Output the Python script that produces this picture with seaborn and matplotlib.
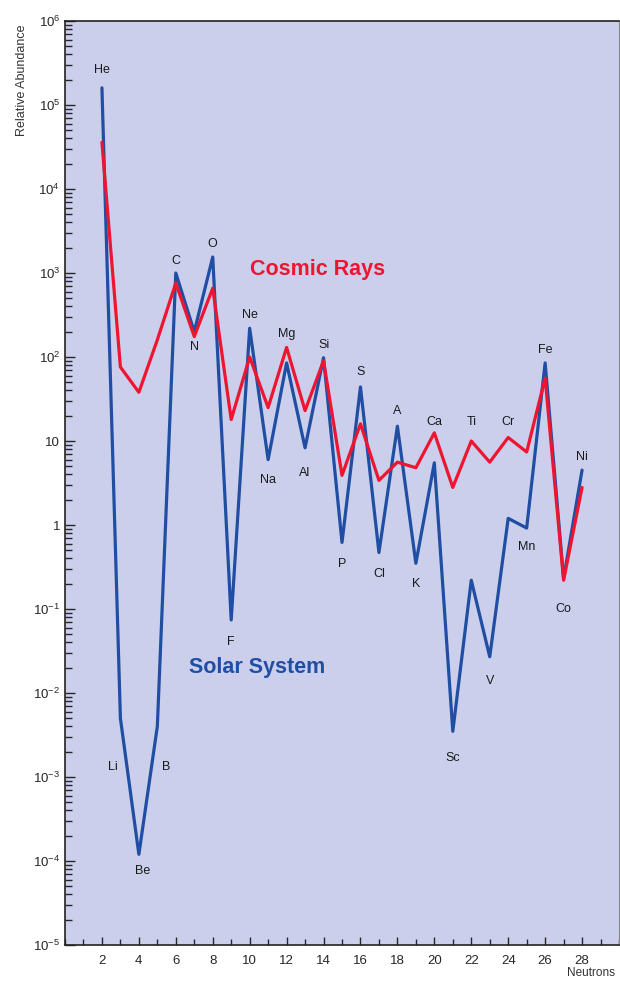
import numpy as np
import pandas as pd
import matplotlib
matplotlib.use('Agg')
import matplotlib.pyplot as plt
import matplotlib.ticker as mticker
import seaborn as sns

sns.set_style('ticks')
plt.rcParams['font.family'] = ['Liberation Sans', 'DejaVu Sans']
plt.rcParams['mathtext.fontset'] = 'custom'
plt.rcParams['mathtext.rm'] = 'Liberation Sans'

# element symbols by atomic number (2..28)
elements = ['He', 'Li', 'Be', 'B', 'C', 'N', 'O', 'F', 'Ne', 'Na', 'Mg', 'Al', 'Si', 'P',
            'S', 'Cl', 'A', 'K', 'Ca', 'Sc', 'Ti', 'V', 'Cr', 'Mn', 'Fe', 'Co', 'Ni']
z = list(range(2, 29))

solar = [1.6e5, 5e-3, 1.2e-4, 4e-3, 1000, 200, 1550, 0.074, 220, 6, 85, 8.3, 98, 0.62,
         44, 0.47, 15, 0.35, 5.5, 3.5e-3, 0.22, 0.027, 1.2, 0.92, 85, 0.23, 4.5]
cosmic = [3.6e4, 76, 38, 160, 760, 175, 660, 18, 100, 25, 130, 23, 90, 3.9,
          16, 3.4, 5.6, 4.8, 12.5, 2.8, 10, 5.6, 11, 7.4, 56, 0.22, 2.8]

# label anchors (data coords) for each element symbol
label_y = [2.6e5, 1.3e-3, 7.5e-5, 1.3e-3, 1.4e3, 130, 2.2e3, 0.04, 320, 3.4, 190, 4.2, 140, 0.34,
           66, 0.26, 23, 0.2, 17, 1.7e-3, 17, 0.014, 17, 0.55, 120, 0.1, 6.5]
label_x = [2, 2.6, 4.2, 5.5, 6, 7, 8, 9, 10, 11, 12, 13, 14, 15,
           16, 17, 18, 19, 20, 21, 22, 23, 24, 25, 26, 27, 28]

df_solar = pd.DataFrame({'z': z, 'abundance': solar})
df_cosmic = pd.DataFrame({'z': z, 'abundance': cosmic})

fig = plt.figure(figsize=(6.2, 9.82), dpi=100)
fig.patch.set_facecolor('white')
ax = fig.add_axes([65 / 620, 37 / 982, 554 / 620, 924 / 982])
ax.set_facecolor('#cbcfec')

sns.lineplot(data=df_solar, x='z', y='abundance', ax=ax, color='#1f4ea3', linewidth=2.3)
sns.lineplot(data=df_cosmic, x='z', y='abundance', ax=ax, color='#ee1530', linewidth=2.3)

ax.set_yscale('log')
ax.set_ylim(1e-5, 1e6)
ax.set_xlim(0, 30)

for name, x, y in zip(elements, label_x, label_y):
    ax.text(x, y, name, ha='center', va='center', fontsize=9, color='#1a1a1a')

ax.text(13.7, 1.1e3, 'Cosmic Rays', color='#ee1530', fontsize=15.5, fontweight='bold',
        ha='center', va='center')
ax.text(10.4, 0.02, 'Solar System', color='#1f4ea3', fontsize=15.5, fontweight='bold',
        ha='center', va='center')

# ticks
ax.set_xticks(range(2, 30, 2))
ax.xaxis.set_minor_locator(mticker.MultipleLocator(1))
ax.tick_params(axis='x', which='major', direction='in', length=6, width=1, labelsize=9.5, pad=7)
ax.tick_params(axis='x', which='minor', direction='in', length=4, width=1)

yt = [10.0 ** k for k in range(-5, 7)]
ylabels = []
for k in range(-5, 7):
    if k == 0:
        ylabels.append('1')
    elif k == 1:
        ylabels.append('10')
    else:
        ylabels.append(r'$10^{%d}$' % k)
ax.set_yticks(yt)
ax.set_yticklabels(ylabels)
ax.yaxis.set_minor_locator(mticker.LogLocator(base=10, subs=np.arange(2, 10), numticks=20))
ax.yaxis.set_minor_formatter(mticker.NullFormatter())
ax.tick_params(axis='y', which='major', direction='in', length=7, width=1, labelsize=9.5)
ax.tick_params(axis='y', which='minor', direction='in', length=5, width=1)

for side in ['left', 'bottom', 'top']:
    ax.spines[side].set_color('#222222')
    ax.spines[side].set_linewidth(1.2)
ax.spines['right'].set_color('#888888')

ax.set_xlabel('')
ax.set_ylabel('')
fig.text(22 / 620, 1 - 80 / 982, 'Relative Abundance', rotation=90, ha='center', va='center',
         fontsize=9, color='#333333')
fig.text(615 / 620, 1 - 973 / 982, 'Neutrons', ha='right', va='center', fontsize=8.5, color='#333333')

fig.savefig('out.png', dpi=100)
